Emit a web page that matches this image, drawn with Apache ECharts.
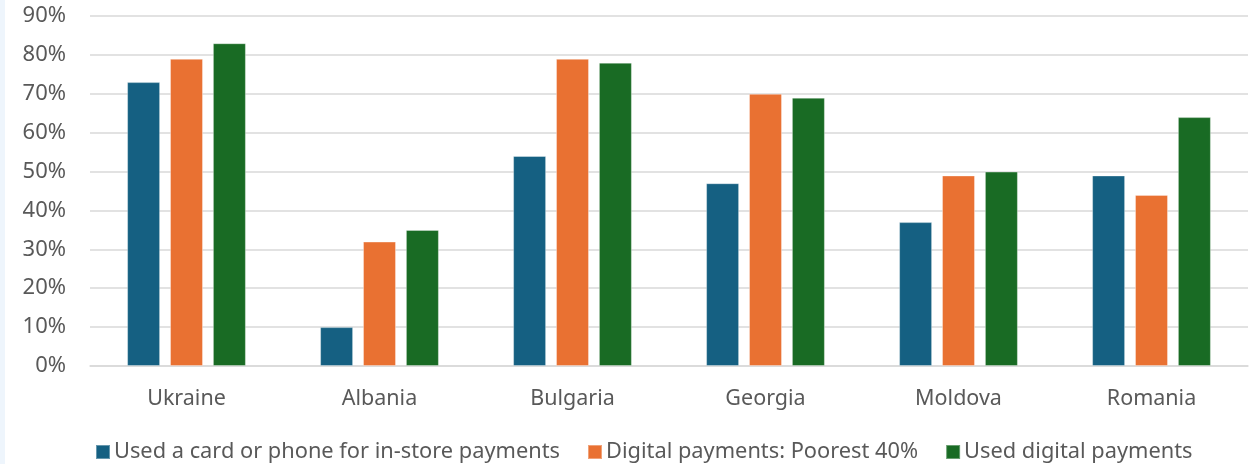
<!DOCTYPE html>
<html>
<head>
<meta charset="utf-8">
<script src="https://cdn.jsdelivr.net/npm/echarts@6/dist/echarts.min.js"></script>
<style>
  html, body { margin: 0; padding: 0; background: #fff; }
  #wrap { width: 1258px; height: 464px; position: relative; }
  #strip { position: absolute; left: 0; top: 0; width: 5px; height: 464px; background: #eef5fc; }
  #chart { position: absolute; left: 0; top: 0; width: 1258px; height: 464px; }
</style>
</head>
<body>
<div id="wrap"><div id="chart"></div><div id="strip"></div></div>
<script>
const categories = ['Ukraine', 'Albania', 'Bulgaria', 'Georgia', 'Moldova', 'Romania'];
const seriesNames = [
  'Used a card or phone for in-store payments',
  'Digital payments: Poorest 40%',
  'Used digital payments'
];
const cardOrPhoneInStore = [73, 10, 54, 47, 37, 49];
const digitalPoorest40 = [79, 32, 79, 70, 49, 44];
const usedDigital = [83, 35, 78, 69, 50, 64];
const yTicks = { min: 0, max: 90, interval: 10 };

const colors = ['#156082', '#E97132', '#196B24'];
const font = '"Noto Sans", "Open Sans", sans-serif';
const seriesData = [cardOrPhoneInStore, digitalPoorest40, usedDigital];

const chart = echarts.init(document.getElementById('chart'), null, { renderer: 'canvas' });
chart.setOption({
  animation: false,
  color: colors,
  grid: { left: 90, right: 10, top: 16, bottom: 98, containLabel: false },
  legend: {
    top: 441,
    left: 95,
    padding: 0,
    icon: 'rect',
    itemWidth: 14,
    itemHeight: 14,
    itemGap: 27,
    textStyle: { color: '#595959', fontSize: 21.8, fontFamily: font, padding: [0, 0, 0, -1] },
    data: seriesNames
  },
  xAxis: {
    type: 'category',
    data: categories,
    axisLine: { show: true, lineStyle: { color: '#d9d9d9', width: 1.5 } },
    axisTick: { show: false },
    axisLabel: { color: '#595959', fontSize: 21.5, fontFamily: font, margin: 22 }
  },
  yAxis: {
    type: 'value',
    min: yTicks.min,
    max: yTicks.max,
    interval: yTicks.interval,
    axisLine: { show: false },
    axisTick: { show: false },
    splitLine: { lineStyle: { color: '#d9d9d9', width: 1.5 } },
    axisLabel: { color: '#595959', fontSize: 22, fontFamily: font, margin: 24, formatter: '{value}%' }
  },
  series: seriesNames.map((name, i) => ({
    name,
    type: 'bar',
    data: seriesData[i],
    barWidth: 33,
    barGap: '30%',
    itemStyle: { color: colors[i], borderColor: 'rgba(255,255,255,0.35)', borderWidth: 1 }
  }))
});
</script>
</body>
</html>
